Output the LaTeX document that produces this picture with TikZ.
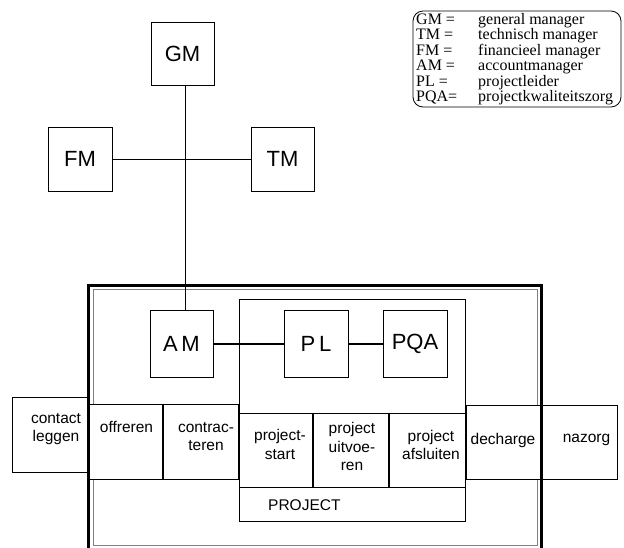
\documentclass[tikz,border=0pt]{standalone}
\usepackage{fontspec}
\setmainfont{Liberation Sans}
\newfontfamily\legendfont{Liberation Serif}
\begin{document}
\begin{tikzpicture}[x=1pt,y=-1pt,
  box/.style={draw, line width=0.9pt, fill=white, inner sep=0pt},
  bigbox/.style={box, font=\fontsize{22}{24}\selectfont},
  lbl/.style={align=center, inner sep=0pt, font=\fontsize{15.5}{18.5}\selectfont},
  conn/.style={line width=0.8pt},
  thickconn/.style={line width=2pt},
  leg/.style={anchor=base west, inner sep=0pt, font=\legendfont\fontsize{16}{16}\selectfont}]
\clip (0,0) rectangle (624,547);
\fill[white] (0,0) rectangle (624,547);

% legend
\draw[line width=0.8pt, rounded corners=10pt] (413,11) rectangle (621,107);
\foreach \n/\a/\d/\y in {l1/GM =/general manager/24, l2/TM =/technisch manager/39.5, l3/FM =/financieel manager/55, l4/AM =/accountmanager/70.5, l5/PL =/projectleider/86, l6/PQA=/projectkwaliteitszorg/101.5}{
  \node[leg] (\n a) at (416,\y) {\a};
  \node[leg] (\n d) at (478,\y) {\d};
}

% top hierarchy
\node[bigbox, minimum width=63pt, minimum height=63pt] (GM) at (182.5,53.5) {GM};
\node[bigbox, minimum width=64pt, minimum height=64pt] (FM) at (80,159) {FM};
\node[bigbox, minimum width=63pt, minimum height=64pt] (TM) at (282.5,159) {TM};
\coordinate (hub) at (185,159);

% frames
\draw[gray, line width=0.8pt] (93,289) rectangle (537,545);
\draw[line width=0.9pt] (239,299) rectangle (465,521);
\node[anchor=west, inner sep=0pt, font=\fontsize{15.5}{18}\selectfont] (proj) at (268,505) {PROJECT};

\node[bigbox, minimum width=63pt, minimum height=67pt] (AM) at (181.5,343.5) {A\,M};
\node[bigbox, minimum width=64pt, minimum height=67pt] (PL) at (316,343.5) {P\,L};
\node[bigbox, minimum width=64pt, minimum height=67pt] (PQA) at (415,343.5) {PQA};

\draw[conn] (GM.south -| hub) -- (AM.north -| hub);
\draw[conn] (FM.east) -- (TM.west);
\draw[thickconn] (AM.east) -- (PL.west);
\draw[thickconn] (PL.east) -- (PQA.west);

% process row
\node[box, minimum width=75pt, minimum height=75pt] (b1) at (49.5,434.5) {};
\node[box, minimum width=75pt, minimum height=75pt] (b2) at (125.5,441.5) {};
\node[box, minimum width=75pt, minimum height=75pt] (b3) at (200.5,441.5) {};
\node[box, minimum width=74pt, minimum height=74pt] (b4) at (276,450) {};
\node[box, minimum width=76pt, minimum height=74pt] (b5) at (351,450) {};
\node[box, minimum width=76pt, minimum height=74pt] (b6) at (427,450) {};
\node[box, minimum width=75pt, minimum height=74pt] (b7) at (503.5,442) {};
\node[box, minimum width=76pt, minimum height=74pt] (b8) at (579,442) {};

\draw[line width=2pt] (b2.north east) -- (b2.south east);
\draw[line width=2pt] (b4.north east) -- (b4.south east);
\draw[line width=2pt] (b5.north east) -- (b5.south east);

\node[lbl] (t1) at (56,429) {contact\\leggen};
\node[lbl] (t2) at (126.5,427) {offreren};
\node[lbl] (t3) at (206,436.5) {contrac-\\teren};
\node[lbl] (t4) at (280,444.5) {project-\\start};
\node[lbl] (t5) at (352,446.5) {project\\uitvoe-\\ren};
\node[lbl] (t6) at (431,445) {project\\afsluiten};
\node[lbl] (t7) at (503,440) {decharge};
\node[lbl] (t8) at (586.5,440) {nazorg};

% outer thick frame
\draw[line width=3pt] (88,560) -- (88,285) -- (541,285) -- (541,560);
\end{tikzpicture}
\end{document}
